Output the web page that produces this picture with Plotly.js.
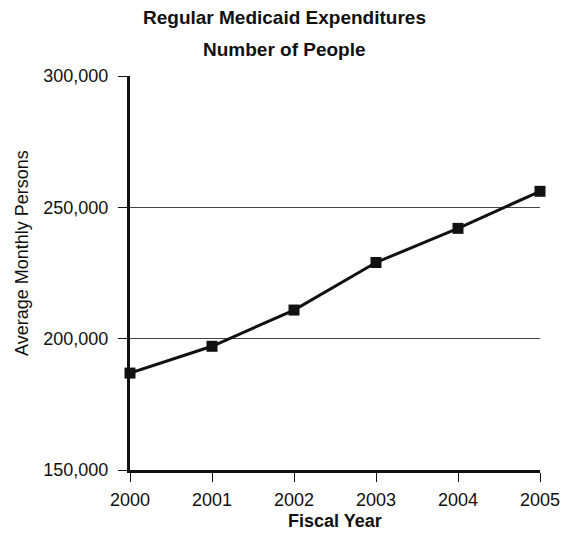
<!DOCTYPE html>
<html>
<head>
<meta charset="utf-8">
<script src="https://cdn.plot.ly/plotly-3.0.1.min.js"></script>
<style>
  html, body { margin: 0; padding: 0; background: #fff; }
  #chart { width: 563px; height: 534px; }
</style>
</head>
<body>
<div id="chart"></div>
<script>
// Fiscal years and average monthly persons on regular Medicaid
const years = [2000, 2001, 2002, 2003, 2004, 2005];
const persons = [186900, 197100, 210900, 229000, 242000, 256100];
const yTicks = [150000, 200000, 250000, 300000];

const titleLines = ['Regular Medicaid Expenditures', 'Number of People'];
const xTitle = 'Fiscal Year';
const yTitle = 'Average Monthly Persons';

const ink = '#111';
const fontFamily = 'Liberation Sans, Arial, sans-serif';

const trace = {
  x: years,
  y: persons,
  type: 'scatter',
  mode: 'lines+markers',
  line: { color: ink, width: 3 },
  marker: { symbol: 'square', size: 11, color: ink },
  cliponaxis: false,
  hoverinfo: 'x+y'
};

const layout = {
  width: 563,
  height: 534,
  margin: { l: 130, r: 23, t: 76, b: 64 },
  paper_bgcolor: '#fff',
  plot_bgcolor: '#fff',
  showlegend: false,
  font: { family: fontFamily, color: ink, size: 18 },
  xaxis: {
    range: [2000, 2005],
    tickvals: years,
    ticktext: years.map(String),
    ticks: 'outside', ticklen: 9, tickwidth: 1, tickcolor: ink,
    ticklabelstandoff: 2,
    showline: true, linecolor: ink, linewidth: 3,
    showgrid: false, zeroline: false,
    tickfont: { size: 18 },
    fixedrange: true
  },
  yaxis: {
    range: [150000, 300000],
    tickvals: yTicks,
    tickformat: ',d',
    ticks: 'outside', ticklen: 9, tickwidth: 1, tickcolor: ink,
    ticklabelstandoff: 6,
    showline: true, linecolor: ink, linewidth: 3,
    showgrid: true, gridcolor: '#444', gridwidth: 1,
    zeroline: false,
    tickfont: { size: 18 },
    fixedrange: true
  },
  annotations: [
    // two-line chart heading
    { text: '<b>' + titleLines[0] + '</b>', xref: 'paper', yref: 'paper',
      x: 0.378, y: 1.1497, xanchor: 'center', yanchor: 'middle',
      showarrow: false, font: { size: 19, color: ink } },
    { text: '<b>' + titleLines[1] + '</b>', xref: 'paper', yref: 'paper',
      x: 0.378, y: 1.0685, xanchor: 'center', yanchor: 'middle',
      showarrow: false, font: { size: 19, color: ink } },
    // axis titles
    { text: '<b>' + xTitle + '</b>', xref: 'paper', yref: 'paper',
      x: 0.5, y: -0.1294, xanchor: 'center', yanchor: 'middle',
      showarrow: false, font: { size: 18, color: ink } },
    { text: yTitle, xref: 'paper', yref: 'paper', textangle: -90,
      x: -0.2634, y: 0.5508, xanchor: 'center', yanchor: 'middle',
      showarrow: false, font: { size: 18, color: ink } }
  ]
};

Plotly.newPlot('chart', [trace], layout, { displayModeBar: false, staticPlot: true });
</script>
</body>
</html>
